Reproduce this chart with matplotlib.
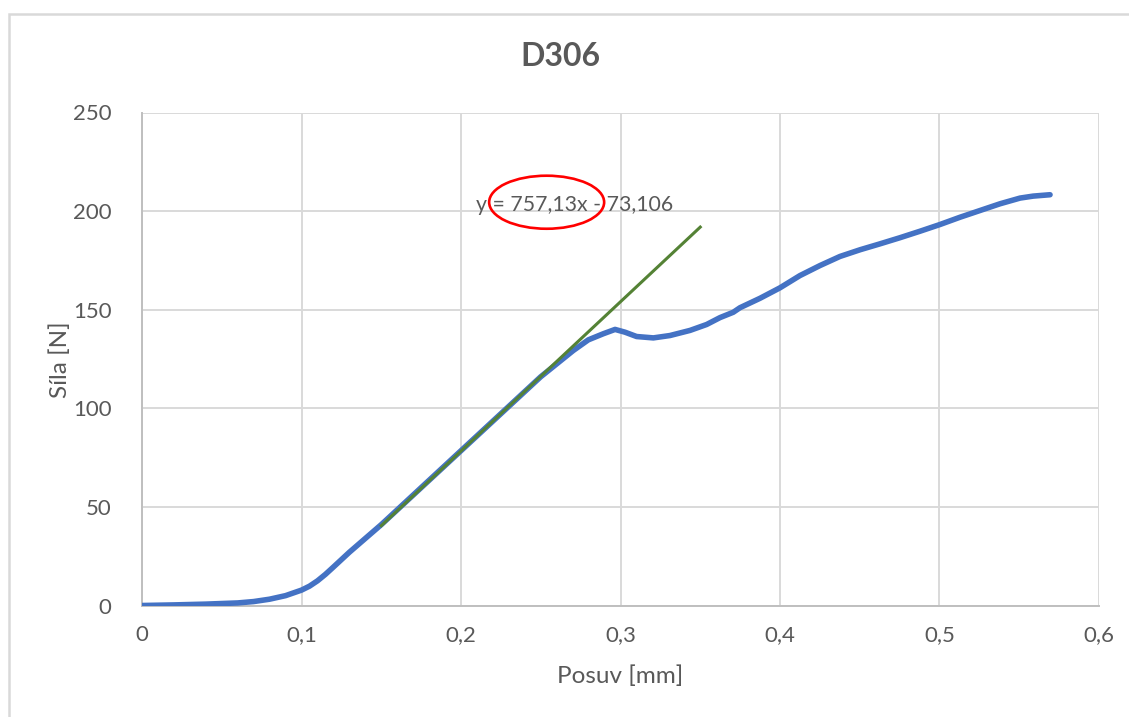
import matplotlib
matplotlib.use("Agg")
import matplotlib.pyplot as plt
from matplotlib.patches import Ellipse, Rectangle
import numpy as np

plt.rcParams['font.family'] = ['Lato', 'DejaVu Sans']

# Měření D306: posuv [mm] a síla [N]
posuv = [0, 0.02, 0.04, 0.06, 0.07, 0.08, 0.09, 0.10, 0.105, 0.11, 0.115,
         0.12, 0.13, 0.14, 0.15, 0.17, 0.20, 0.23, 0.25, 0.2704, 0.2798,
         0.2892, 0.2966, 0.3028, 0.3101, 0.3206, 0.331, 0.3436, 0.354,
         0.3624, 0.3707, 0.3749, 0.3875, 0.40, 0.4125, 0.4251, 0.4376,
         0.4502, 0.4627, 0.4752, 0.4878, 0.5003, 0.5129, 0.5254, 0.5379,
         0.5505, 0.5587, 0.5693]
sila = [0, 0.3, 0.7, 1.3, 2.0, 3.2, 5.0, 7.8, 9.8, 12.5, 15.8,
        19.5, 27, 34, 41, 56, 78.5, 101, 116, 129.3, 134.7,
        137.8, 140.0, 138.6, 136.4, 135.7, 136.9, 139.5, 142.5,
        146.0, 148.7, 151.0, 155.8, 161.1, 167.3, 172.4, 177.0,
        180.4, 183.4, 186.5, 189.8, 193.2, 196.9, 200.3, 203.7,
        206.6, 207.6, 208.3]

# lineární regrese v oblasti pružné deformace
smernice = 757.13
posun = -73.106
rozsah_fit = [0.15, 0.35]

text_barva = '#595959'
mrizka = '#D9D9D9'
W, H = 1129, 717

fig = plt.figure(figsize=(W / 100, H / 100), dpi=100)
ax = fig.add_axes([142 / W, 1 - 605.5 / H, 957 / W, 493 / H])

# rámeček grafu
fig.patches.append(Rectangle((9 / W, -0.2), 1.2, 1.2 - 14 / H,
                             transform=fig.transFigure, fill=False,
                             edgecolor=mrizka, linewidth=1.8))

ax.plot(posuv, sila, color='#4472C4', linewidth=4.0, solid_capstyle='round',
        solid_joinstyle='round', zorder=3)

x_fit = np.array(rozsah_fit)
ax.plot(x_fit, smernice * x_fit + posun, color='#548235', linewidth=2.2, zorder=4)

ax.text(0.2094, 203, 'y = 757,13x - 73,106', fontsize=15.3, color=text_barva,
        va='center', ha='left', zorder=5)
ax.add_patch(Ellipse((0.2537, 204.5), 0.0721, 26.9, fill=False,
                     edgecolor='#FF0000', linewidth=1.9, zorder=6))

ax.set_xlim(0, 0.6)
ax.set_ylim(0, 250)
ax.set_xticks(np.arange(0, 0.61, 0.1))
ax.set_yticks(np.arange(0, 251, 50))
ax.set_xticklabels(['0', '0,1', '0,2', '0,3', '0,4', '0,5', '0,6'])
ax.grid(True, color=mrizka, linewidth=1.4)
ax.set_axisbelow(True)
ax.tick_params(length=0, labelsize=16, colors=text_barva)
ax.tick_params(axis='y', pad=22)
ax.tick_params(axis='x', pad=14)
for strana in ['top', 'right']:
    ax.spines[strana].set_visible(False)
for strana in ['left', 'bottom']:
    ax.spines[strana].set_color('#BFBFBF')
    ax.spines[strana].set_linewidth(1.4)

fig.text(560 / W, 1 - 57 / H, 'D306', fontsize=23, fontweight='bold',
         color=text_barva, ha='center', va='center')
fig.text(620 / W, 1 - 676 / H, 'Posuv [mm]', fontsize=17.5, color=text_barva,
         ha='center', va='center')
fig.text(60 / W, 1 - 360 / H, 'Síla [N]', fontsize=17.5, color=text_barva,
         ha='center', va='center', rotation=90)

fig.savefig('out.png', dpi=100)
